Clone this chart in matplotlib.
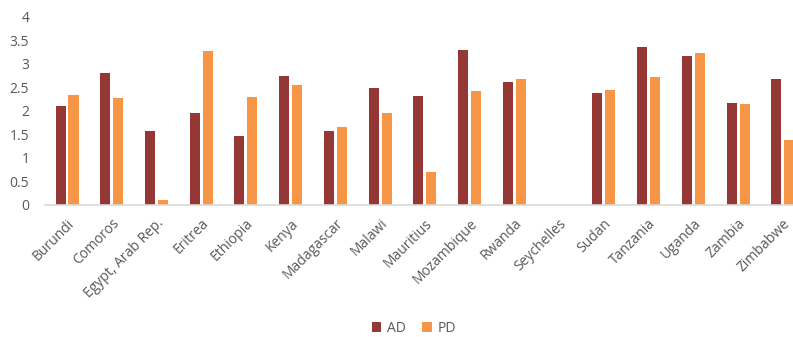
import numpy as np
import matplotlib
matplotlib.use('Agg')
import matplotlib.pyplot as plt

plt.rcParams['font.family'] = ['Open Sans', 'DejaVu Sans']

countries = ['Burundi', 'Comoros', 'Egypt, Arab Rep.', 'Eritrea', 'Ethiopia', 'Kenya',
             'Madagascar', 'Malawi', 'Mauritius', 'Mozambique', 'Rwanda', 'Seychelles',
             'Sudan', 'Tanzania', 'Uganda', 'Zambia', 'Zimbabwe']
ad = [2.11, 2.81, 1.57, 1.96, 1.47, 2.74, 1.57, 2.48, 2.31, 3.29, 2.62, np.nan,
      2.38, 3.36, 3.16, 2.17, 2.69]
pd_vals = [2.33, 2.28, 0.11, 3.27, 2.29, 2.55, 1.65, 1.96, 0.70, 2.43, 2.67, np.nan,
           2.44, 2.72, 3.24, 2.14, 1.38]

text_col = '#595959'

fig = plt.figure(figsize=(7.93, 3.37), dpi=100)
# plot area runs a little past the right edge of the figure
ax = fig.add_axes([0.0563, 0.3917, 0.959, 0.558])

x = np.arange(len(countries))
w = 0.224
off = 0.145
ax.bar(x - off, ad, width=w, color='#953735', label='AD')
ax.bar(x + off, pd_vals, width=w, color='#F79646', label='PD')

ax.set_xlim(-0.5, len(countries) - 0.5)
ax.set_ylim(0, 4)
ax.set_yticks(np.arange(0, 4.01, 0.5))
ax.set_yticklabels(['0', '0.5', '1', '1.5', '2', '2.5', '3', '3.5', '4'])
ax.set_xticks(x)
ax.set_xticklabels(countries, rotation=45, ha='right', rotation_mode='anchor')

ax.tick_params(axis='y', length=0, pad=11, labelsize=10, labelcolor=text_col)
ax.tick_params(axis='x', length=0, pad=8, labelsize=10, labelcolor=text_col)

for s in ['top', 'right', 'left']:
    ax.spines[s].set_visible(False)
ax.spines['bottom'].set_color('#d9d9d9')
ax.spines['bottom'].set_linewidth(1.2)

fig.legend(loc='center', bbox_to_anchor=(0.522, 0.026), ncol=2, frameon=False,
           fontsize=10, labelcolor=text_col, handlelength=0.7, handleheight=0.7,
           handletextpad=0.4, columnspacing=1.2, borderpad=0.2)

fig.savefig('out.png', dpi=100)
